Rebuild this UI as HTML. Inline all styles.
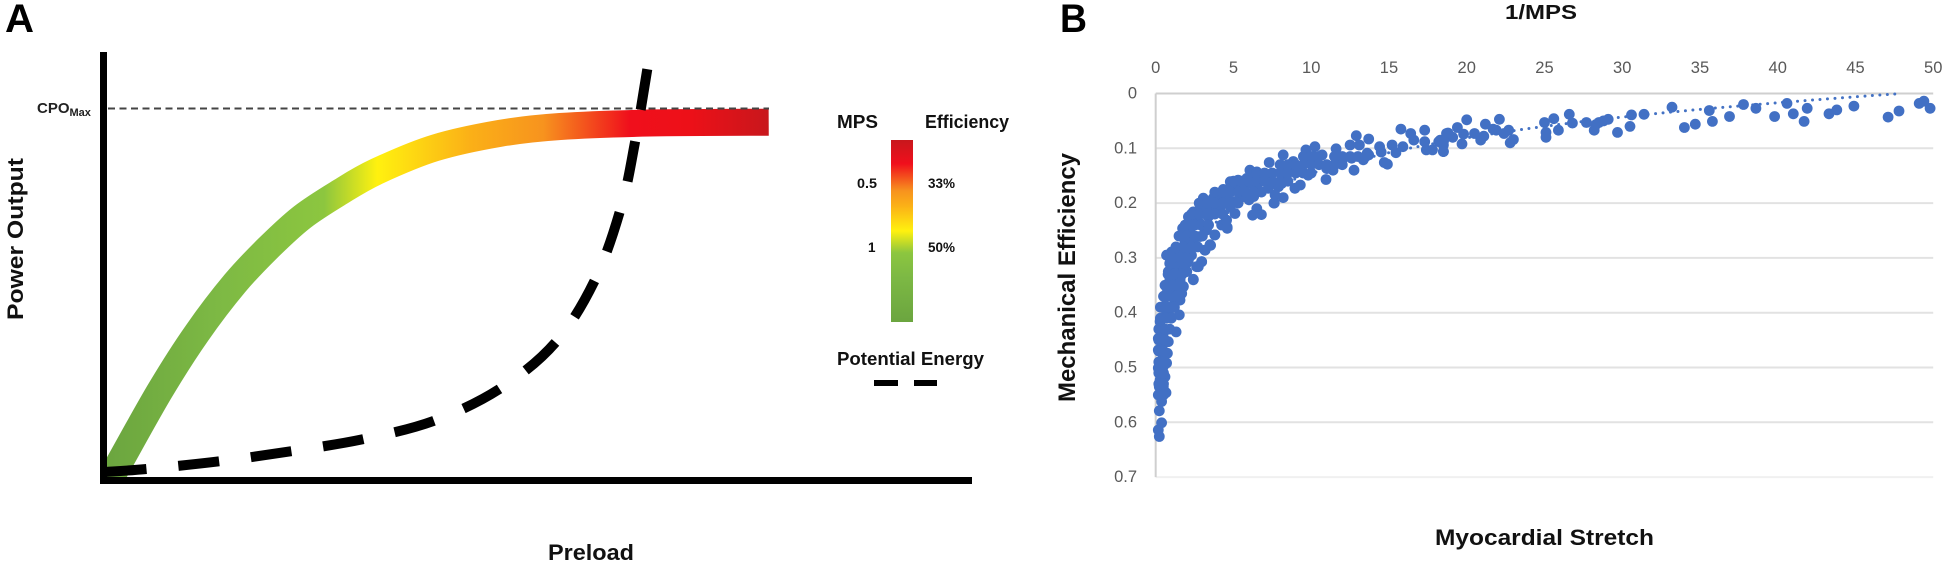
<!DOCTYPE html>
<html lang="en">
<head>
<meta charset="utf-8">
<title>Power output and mechanical efficiency charts</title>
<style>
html,body{margin:0;padding:0;background:#fff;}
body{width:1950px;height:566px;overflow:hidden;}
svg{display:block;font-family:"Liberation Sans",sans-serif;}
</style>
</head>
<body>
<svg id="figure" xmlns="http://www.w3.org/2000/svg" width="1950" height="566" viewBox="0 0 1950 566">
  <defs>
    <linearGradient id="bandGradient" gradientUnits="userSpaceOnUse" x1="105" y1="0" x2="769" y2="0">
      <stop offset="0" stop-color="#6ba53f"/>
      <stop offset="0.17" stop-color="#7db944"/>
      <stop offset="0.33" stop-color="#8cc63f"/>
      <stop offset="0.41" stop-color="#fff10f"/>
      <stop offset="0.55" stop-color="#fbb017"/>
      <stop offset="0.66" stop-color="#f7931e"/>
      <stop offset="0.79" stop-color="#f00f1c"/>
      <stop offset="0.88" stop-color="#ed1018"/>
      <stop offset="1" stop-color="#c8171c"/>
    </linearGradient>
    <linearGradient id="legendGradient" x1="0" y1="0" x2="0" y2="1">
      <stop offset="0" stop-color="#c8171c"/>
      <stop offset="0.13" stop-color="#f00f1c"/>
      <stop offset="0.28" stop-color="#f7931e"/>
      <stop offset="0.36" stop-color="#fbb017"/>
      <stop offset="0.5" stop-color="#fff10f"/>
      <stop offset="0.62" stop-color="#8cc63f"/>
      <stop offset="0.75" stop-color="#7db944"/>
      <stop offset="1" stop-color="#6ba53f"/>
    </linearGradient>
    <clipPath id="panelAClip"><rect x="103" y="40" width="870" height="440"/></clipPath>
  </defs>

  <g id="panel-a">
    <text x="5" y="32" font-size="40" font-weight="700" textLength="29" lengthAdjust="spacingAndGlyphs">A</text>
    <g id="bandLayer" clip-path="url(#panelAClip)"></g>
    <line x1="108" x2="769" y1="108.5" y2="108.5" stroke="#444" stroke-width="2" stroke-dasharray="7 4.5"/>
    <g id="potentialLayer"></g>
    <rect x="100" y="52" width="7" height="432" fill="#000"/>
    <rect x="100" y="477" width="872" height="7" fill="#000"/>
    <text x="37" y="113" font-size="15" font-weight="700" fill="#222">CPO<tspan font-size="11" dy="3">Max</tspan></text>
    <text transform="translate(23 320) rotate(-90)" font-size="22" font-weight="700" textLength="162" lengthAdjust="spacingAndGlyphs" fill="#111">Power Output</text>
    <text x="548" y="560" font-size="22" font-weight="700" textLength="86" lengthAdjust="spacingAndGlyphs" fill="#111">Preload</text>

    <g>
      <text x="837" y="128" font-size="18" font-weight="700" textLength="41" lengthAdjust="spacingAndGlyphs" fill="#111">MPS</text>
      <text x="925" y="128" font-size="18" font-weight="700" textLength="84" lengthAdjust="spacingAndGlyphs" fill="#111">Efficiency</text>
      <rect x="891" y="140" width="22" height="182" fill="url(#legendGradient)"/>
      <text x="857" y="188" font-size="13.5" font-weight="700" textLength="20" lengthAdjust="spacingAndGlyphs" fill="#111">0.5</text>
      <text x="928" y="188" font-size="13.5" font-weight="700" textLength="27" lengthAdjust="spacingAndGlyphs" fill="#111">33%</text>
      <text x="868" y="252" font-size="13.5" font-weight="700" fill="#111">1</text>
      <text x="928" y="252" font-size="13.5" font-weight="700" textLength="27" lengthAdjust="spacingAndGlyphs" fill="#111">50%</text>
      <text x="837" y="365" font-size="18" font-weight="700" textLength="147" lengthAdjust="spacingAndGlyphs" fill="#111">Potential Energy</text>
      <line x1="874" x2="898" y1="383" y2="383" stroke="#000" stroke-width="6"/>
      <line x1="914" x2="937" y1="383" y2="383" stroke="#000" stroke-width="6"/>
    </g>
  </g>

  <g id="panel-b">
    <text x="1060" y="32" font-size="40" font-weight="700" textLength="27" lengthAdjust="spacingAndGlyphs">B</text>
    <text x="1505" y="19" font-size="20" font-weight="700" textLength="72" lengthAdjust="spacingAndGlyphs" fill="#111">1/MPS</text>
    <text transform="translate(1075 402) rotate(-90)" font-size="24" font-weight="700" textLength="249" lengthAdjust="spacingAndGlyphs" fill="#111">Mechanical Efficiency</text>
    <text x="1435" y="545" font-size="22" font-weight="700" textLength="219" lengthAdjust="spacingAndGlyphs" fill="#111">Myocardial Stretch</text>
    <g id="gridLayer"></g>
    <g id="tickLayer"></g>
    <path id="trendLine" fill="none" stroke="#4472c4" stroke-width="3" stroke-linecap="round" stroke-dasharray="0 7.5"/>
    <g id="pointLayer"></g>
  </g>
</svg>

<script>
var NS = 'http://www.w3.org/2000/svg';

// Panel A: schematic curves (preload %, power %)
var bandPreload = [-0.3, 1.4, 6.6, 10.8, 15.2, 19, 22.9, 27.3, 31.5, 38.2, 45.7, 52.6, 62.9, 76.6];
var bandPower = [-3.5, 2.3, 21, 34.3, 46, 54.2, 61.4, 67.3, 72.1, 77.6, 81, 82.6, 83.4, 83.6];
var potentialPreload = [0.3, 5.1, 13.5, 21.9, 30.1, 38.3, 45.8, 52.1, 56.6, 59.6, 61.2, 62.8];
var potentialPower = [1.9, 2.6, 4.4, 6.8, 9.6, 14, 21.5, 32.2, 46.7, 63.6, 78.7, 98];

// Panel B: axis ticks
var xTickValues = [0, 5, 10, 15, 20, 25, 30, 35, 40, 45, 50];
var yTickValues = [0, 0.1, 0.2, 0.3, 0.4, 0.5, 0.6, 0.7];
var yTickLabels = ['0', '0.1', '0.2', '0.3', '0.4', '0.5', '0.6', '0.7'];

// Panel B: dotted trendline
var trendX = [0.5, 1, 2, 3, 5, 7, 10, 15, 20, 25, 30, 35, 40, 45, 48];
var trendY = [0.425, 0.36, 0.295, 0.258, 0.21, 0.179, 0.146, 0.108, 0.081, 0.06, 0.043, 0.029, 0.017, 0.006, 0];

// Panel B: scatter series
var stretchValues = [
34.7,35.6,35.8,36.9,37.8,38.6,39.8,40.6,41,41.9,41.7,43.3,43.8,44.9,47.1,47.8,49.1,49.4,49.8,
33.2,34,31.4,30.6,30.5,29.7,29.1,28.8,28.5,28.2,28.3,27.7,26.8,26.6,25.9,25.6,25,25.1,25.1,
23,22.8,22.7,22.4,22.1,21.9,21.7,21.2,21.1,20.9,20.5,20,19.8,19.7,19.4,19.1,18.8,18.5,18.5,18.3,
15.77,16.4,17.3,16.6,15.9,15.2,15.45,14.4,14.5,14.7,14.9,17.3,17.4,17.8,18.2,18.5,18.7,18.5,
13.7,12.9,12.5,13.1,13.6,13.35,13.7,12.75,12.6,12.06,11.6,11.85,11.4,10.95,11,10.7,10.24,9.66,10.1,9.7,9.8,9.4,9.3,8.95,8.85,
8.2,7.3,8.1,7.45,8.65,8.2,8.1,7.9,8.2,7.6,7.67,7.24,6.8,6.6,6.06,6.5,5.85,6.3,5.3,4.8,4.35,5,5.63,6.17,6.3,6,6.5,6.8,6.23,
5.42,5.1,5.1,4.8,3.7,3.06,4.13,4.45,4.56,4.6,4.24,3.8,3.53,3.17,2.95,2.74,2.42,1.77,2.3,0.7,1.02,1.56,1.88,1.77,1.73,2.1,2.42,2.85,2.31,2.85,3.38,3.27,2.42,2.85,3.7,4.13,2.63,
0.92,1.35,1.99,0.92,1.56,0.92,1.56,0.7,1.45,1.77,2.2,2.42,3.06,3.49,4.56,4.88,
0.23,0.17,0.38,0.23,0.38,0.66,0.17,0.23,0.6,0.17,0.7,0.17,0.75,0.81,0.17,1.31,0.28,0.28,1.52,0.92,0.49,1.03,1.56,0.7,1.67,0.81,1.78,0.92,2.42,1.56,0.81,2,0.71,1.13,1.67,2.63,2.96,2.1,3.17,3.49,2.2,1.78,2.2,3.81,4.6,4.52,7.63,
0.49,0.49,0.49,0.49,0.28,0.49,0.6,1.13,1.13,1.24,1.56,1.13,2.2,2.63,3.06,2.53,3.28,3.81,
0.3,0.5, 0.2,0.5, 0.2,0.5, 0.2,0.5, 0.2,0.5, 0.2,0.6,
0.2,0.6,0.9, 0.3,0.7,1, 0.3,0.8,1.2, 0.5,1,1.3, 0.6,1.1,1.5, 0.8,1.2,1.7, 0.9,1.3,1.8, 1.1,1.6,2,
1.3,1.8,2.3,2.7, 1.5,2,2.5,3, 1.9,2.4,2.9,3.4,
2.3,2.8,3.3,3.8,4.3,
2.8,3.3,3.8,4.3,4.8,5.3,
3.8,4.3,4.8,5.3,5.8,6.3,6.8,
5,5.5,6,6.5,7,7.5,8,8.5,
6.5,7,7.5,8,8.5,9,9.5,10,
8,8.5,9,9.5,10,10.5,11,11.5,12,
9.5,10,10.5,11.5,12,12.5,13,13.5
];
var efficiencyValues = [
0.056,0.031,0.051,0.042,0.02,0.027,0.042,0.018,0.037,0.027,0.051,0.037,0.03,0.023,0.043,0.032,0.018,0.014,0.027,
0.025,0.062,0.038,0.039,0.06,0.071,0.047,0.05,0.053,0.067,0.057,0.053,0.054,0.038,0.067,0.046,0.053,0.071,0.08,
0.084,0.09,0.067,0.073,0.047,0.067,0.065,0.056,0.078,0.085,0.073,0.048,0.074,0.092,0.062,0.08,0.072,0.106,0.094,0.085,
0.065,0.073,0.067,0.085,0.097,0.094,0.108,0.097,0.107,0.126,0.129,0.088,0.103,0.103,0.088,0.106,0.073,0.088,
0.083,0.077,0.094,0.094,0.109,0.121,0.112,0.14,0.118,0.118,0.101,0.128,0.14,0.157,0.137,0.112,0.097,0.103,0.115,0.124,0.149,0.143,0.167,0.173,0.124,
0.112,0.126,0.131,0.146,0.14,0.152,0.164,0.17,0.19,0.2,0.185,0.173,0.152,0.164,0.14,0.143,0.155,0.152,0.158,0.161,0.175,0.173,0.17,0.164,0.188,0.194,0.21,0.221,0.222,
0.191,0.219,0.197,0.207,0.191,0.191,0.194,0.191,0.231,0.246,0.24,0.258,0.277,0.286,0.307,0.316,0.34,0.353,0.295,0.295,0.289,0.283,0.273,0.261,0.246,0.225,0.216,0.21,0.243,0.237,0.225,0.249,0.273,0.261,0.219,0.21,0.231,
0.31,0.304,0.31,0.322,0.322,0.34,0.34,0.365,0.365,0.292,0.255,0.237,0.219,0.207,0.188,0.17,
0.626,0.614,0.601,0.579,0.562,0.546,0.55,0.535,0.517,0.501,0.492,0.468,0.474,0.453,0.447,0.435,0.432,0.416,0.404,0.407,0.389,0.389,0.377,0.371,0.365,0.355,0.352,0.34,0.339,0.34,0.325,0.325,0.295,0.292,0.283,0.316,0.307,0.304,0.286,0.276,0.273,0.246,0.225,0.258,0.244,0.231,0.2,
0.456,0.438,0.498,0.48,0.523,0.535,0.407,0.371,0.355,0.328,0.31,0.31,0.286,0.261,0.243,0.24,0.213,0.219,
0.55,0.55, 0.53,0.53, 0.51,0.51, 0.49,0.49, 0.47,0.47, 0.45,0.45,
0.43,0.43,0.43, 0.41,0.41,0.41, 0.39,0.39,0.39, 0.37,0.37,0.37, 0.35,0.35,0.35, 0.33,0.33,0.33, 0.31,0.31,0.31, 0.3,0.3,0.3,
0.28,0.28,0.28,0.28, 0.26,0.26,0.26,0.26, 0.24,0.24,0.24,0.24,
0.22,0.22,0.22,0.22,0.22,
0.2,0.2,0.2,0.2,0.2,0.2,
0.18,0.18,0.18,0.18,0.18,0.18,0.18,
0.16,0.16,0.16,0.16,0.16,0.16,0.16,0.16,
0.145,0.145,0.145,0.145,0.145,0.145,0.145,0.145,
0.13,0.13,0.13,0.13,0.13,0.13,0.13,0.13,0.13,
0.115,0.115,0.115,0.115,0.115,0.115,0.115,0.115
];

// Axis functions
function xA(v) { return 103 + v * 8.69; }
function yA(v) { return 480 - v * 4.28; }
function xB(v) { return 1155.7 + v * 15.55; }
function yB(v) { return 93.5 + v * 548; }

function smoothPath(xs, ys) {
  var d = 'M' + xs[0].toFixed(1) + ' ' + ys[0].toFixed(1);
  for (var i = 0; i < xs.length - 1; i++) {
    var i0 = Math.max(i - 1, 0), i3 = Math.min(i + 2, xs.length - 1);
    var c1x = xs[i] + (xs[i + 1] - xs[i0]) / 6;
    var c1y = ys[i] + (ys[i + 1] - ys[i0]) / 6;
    var c2x = xs[i + 1] - (xs[i3] - xs[i]) / 6;
    var c2y = ys[i + 1] - (ys[i3] - ys[i]) / 6;
    d += 'C' + c1x.toFixed(1) + ' ' + c1y.toFixed(1) + ' ' + c2x.toFixed(1) + ' ' + c2y.toFixed(1) + ' ' + xs[i + 1].toFixed(1) + ' ' + ys[i + 1].toFixed(1);
  }
  return d;
}

// Efficiency band
var band = document.createElementNS(NS, 'path');


band.setAttribute('d', smoothPath(bandPreload.map(xA), bandPower.map(yA)));
band.setAttribute('fill', 'none');
band.setAttribute('stroke', 'url(#bandGradient)');
band.setAttribute('stroke-width', '27');
document.getElementById('bandLayer').appendChild(band);

// Potential energy curve
var potential = document.createElementNS(NS, 'path');


potential.setAttribute('d', smoothPath(potentialPreload.map(xA), potentialPower.map(yA)));
potential.setAttribute('fill', 'none');
potential.setAttribute('stroke', '#000');
potential.setAttribute('stroke-width', '10');
potential.setAttribute('stroke-dasharray', '41 32');
document.getElementById('potentialLayer').appendChild(potential);

// Grid lines
var gridLayer = document.getElementById('gridLayer');
yTickValues.forEach(function (v, i) {
  var grid = document.createElementNS(NS, 'line');
  
  
  grid.setAttribute('x1', xB(0));
  grid.setAttribute('x2', xB(50));
  grid.setAttribute('y1', yB(v));
  grid.setAttribute('y2', yB(v));
  grid.setAttribute('stroke', i === 0 ? '#cfcfcf' : (v === 0.7 ? '#f0f0f0' : '#e2e2e2'));
  grid.setAttribute('stroke-width', '2');
  gridLayer.appendChild(grid);
});
var leftAxis = document.createElementNS(NS, 'line');


leftAxis.setAttribute('x1', xB(0));
leftAxis.setAttribute('x2', xB(0));
leftAxis.setAttribute('y1', yB(0));
leftAxis.setAttribute('y2', yB(0.7));
leftAxis.setAttribute('stroke', '#cfcfcf');
leftAxis.setAttribute('stroke-width', '2');
gridLayer.appendChild(leftAxis);

// Tick labels
var tickLayer = document.getElementById('tickLayer');
xTickValues.forEach(function (v) {
  var t = document.createElementNS(NS, 'text');
  
  
  t.setAttribute('x', xB(v));
  t.setAttribute('y', 73);
  t.setAttribute('text-anchor', 'middle');
  t.setAttribute('font-size', '16.5');
  t.setAttribute('fill', '#595959');
  t.textContent = String(v);
  tickLayer.appendChild(t);
});
yTickValues.forEach(function (v, i) {
  var t = document.createElementNS(NS, 'text');
  
  
  t.setAttribute('x', 1137);
  t.setAttribute('y', yB(v) + 5);
  t.setAttribute('text-anchor', 'end');
  t.setAttribute('font-size', '16.5');
  t.setAttribute('fill', '#595959');
  t.textContent = yTickLabels[i];
  tickLayer.appendChild(t);
});

// Trendline
document.getElementById('trendLine').setAttribute('d', smoothPath(trendX.map(xB), trendY.map(yB)));

// Scatter points
var pointLayer = document.getElementById('pointLayer');
stretchValues.forEach(function (v, i) {
  var c = document.createElementNS(NS, 'circle');
  
  
  c.setAttribute('cx', xB(v).toFixed(1));
  c.setAttribute('cy', yB(efficiencyValues[i]).toFixed(1));
  c.setAttribute('r', '5.4');
  c.setAttribute('fill', '#4270c4');
  pointLayer.appendChild(c);
});
</script>
</body>
</html>
